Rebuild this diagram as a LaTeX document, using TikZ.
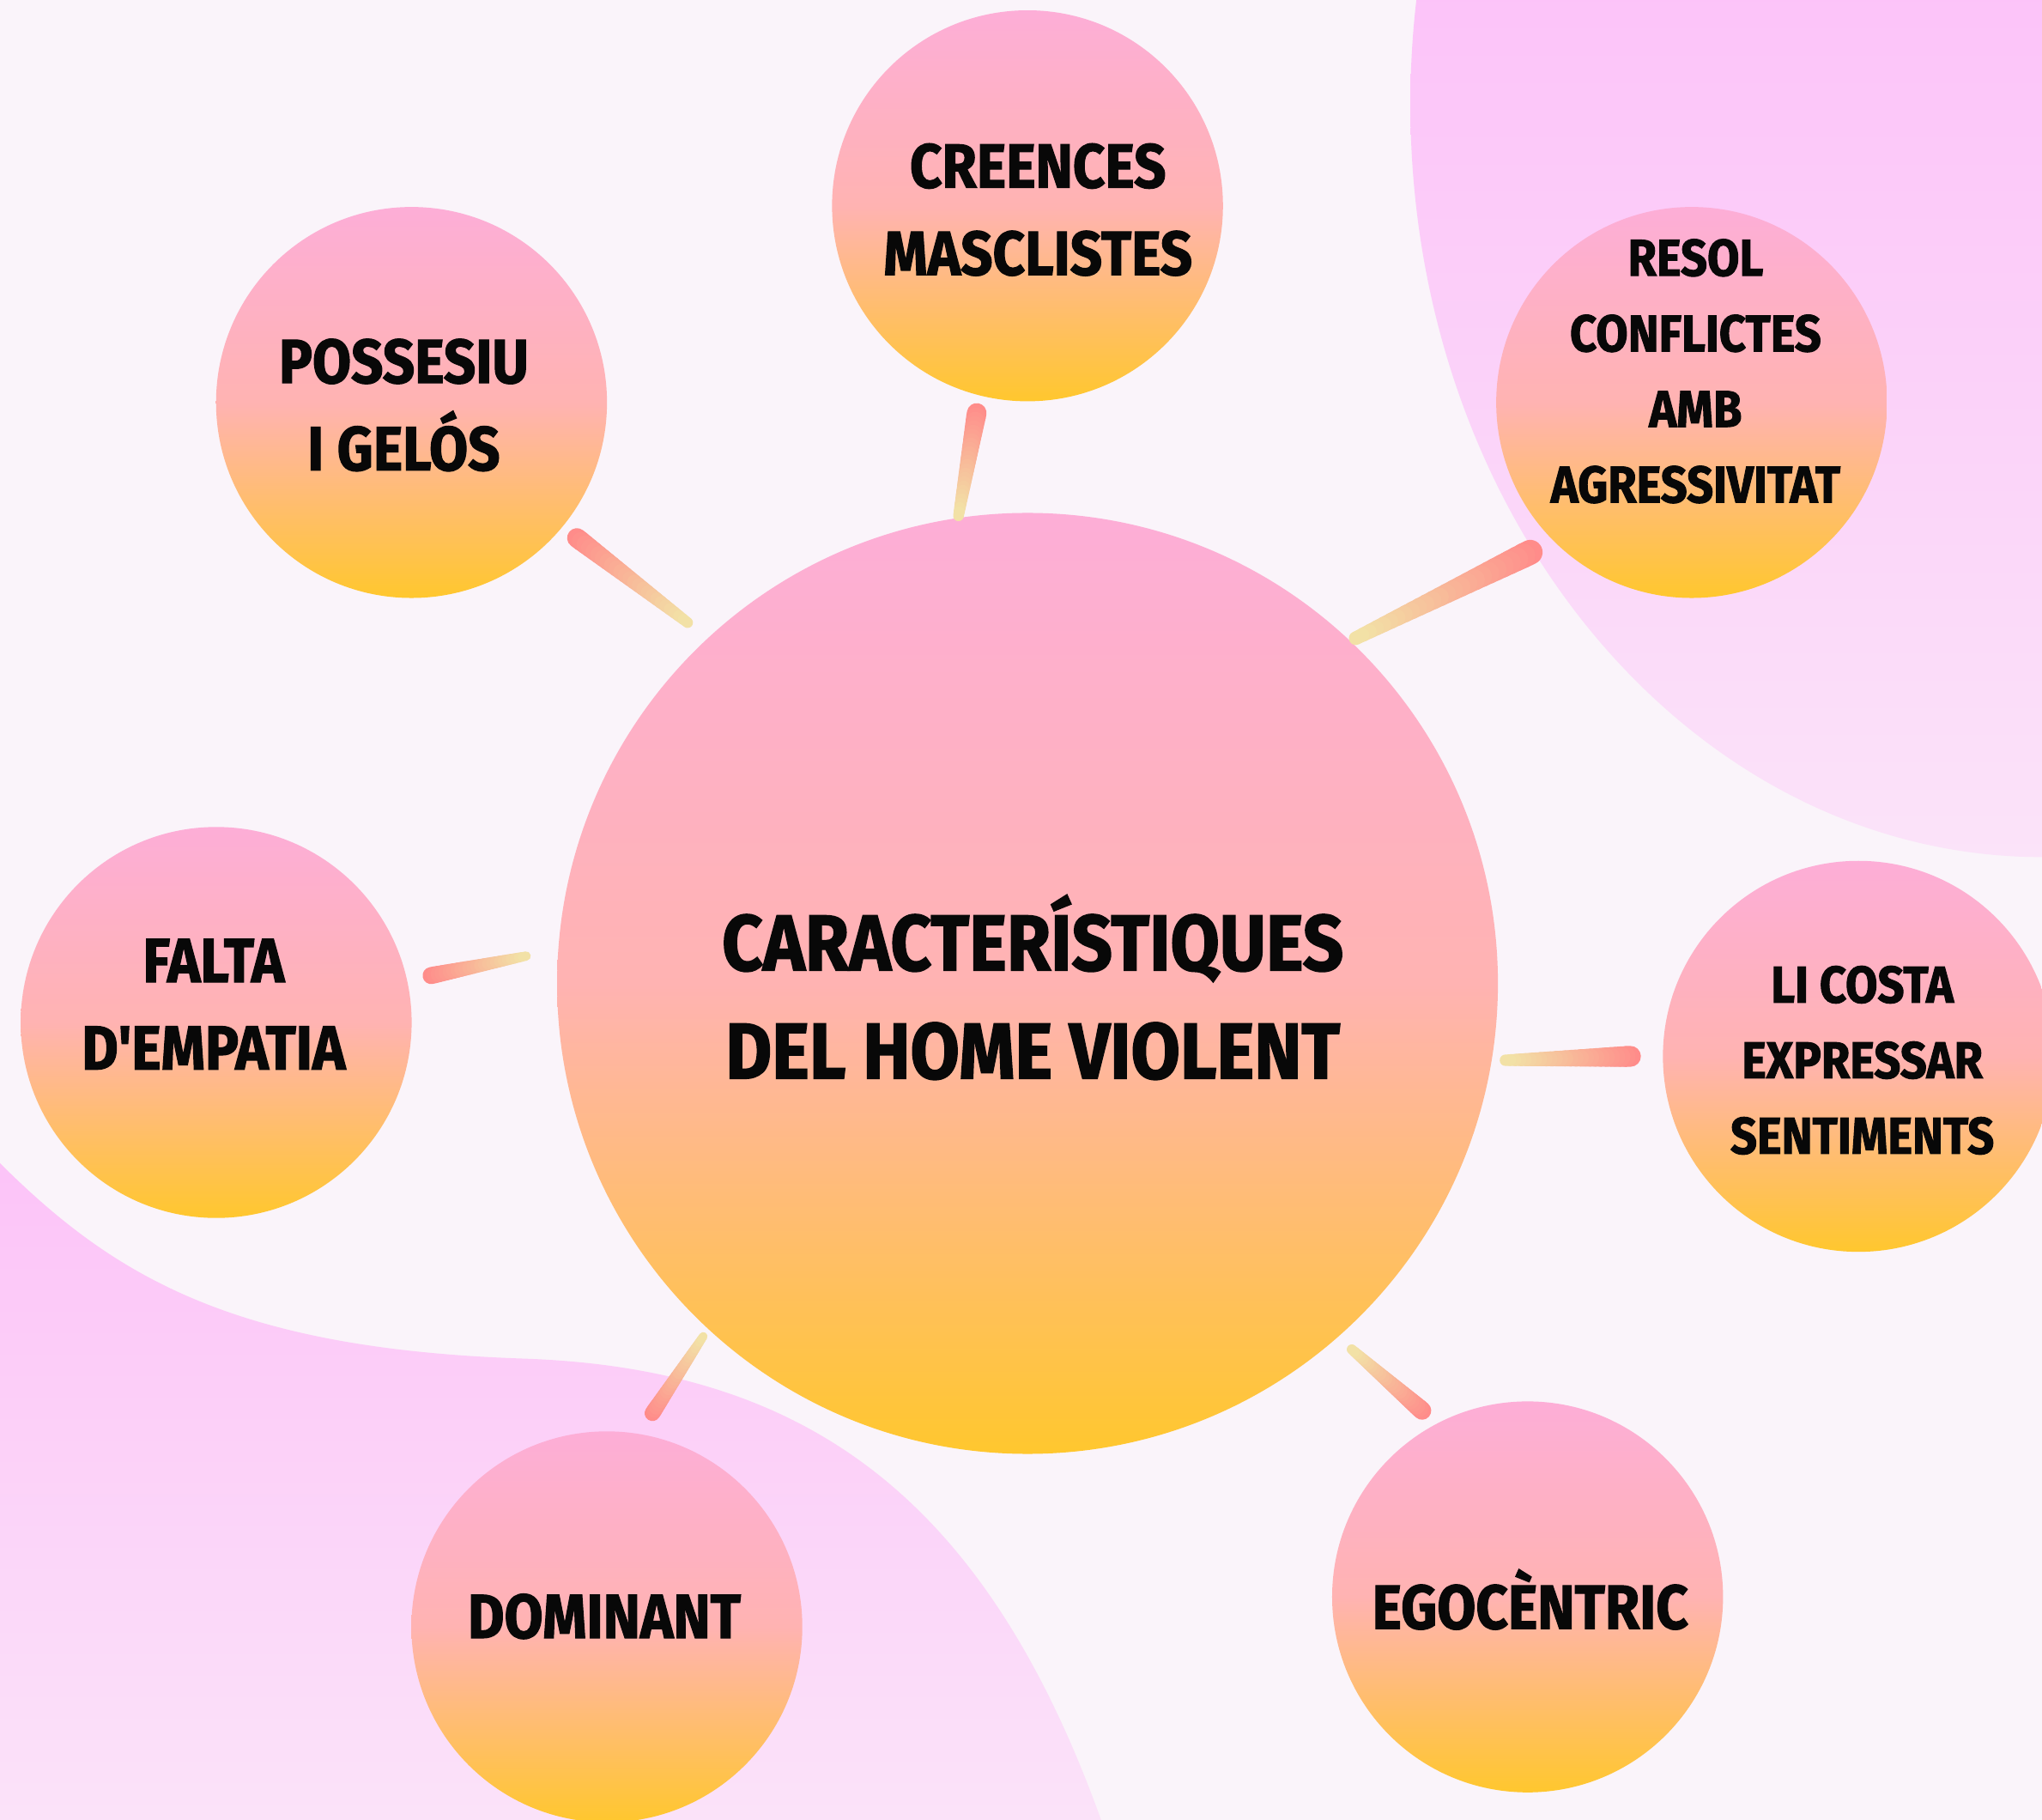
\documentclass[tikz,border=0pt]{standalone}
\usepackage{fontspec}
\setmainfont{Fira Sans}
\newfontfamily\brushfont{Fira Sans}[FakeStretch=0.9, FakeBold=1.6]
\usetikzlibrary{calc}
\definecolor{bgcol}{HTML}{FAF4FA}
\definecolor{blobA}{HTML}{FCC3F8}
\definecolor{blobB}{HTML}{FBE3F9}
\definecolor{bubA}{HTML}{FDAED7}
\definecolor{bubM}{HTML}{FFB3B2}
\definecolor{bubB}{HTML}{FFC72E}
\definecolor{brushA}{HTML}{FF8C8A}
\definecolor{brushB}{HTML}{F2E1A6}
\definecolor{ink}{HTML}{080808}
\newcommand\brushstroke[3]{%
  \foreach \i in {0,...,24}{%
    \pgfmathsetmacro\ta{\i/25}%
    \pgfmathsetmacro\tb{(\i+1)/25}%
    \pgfmathtruncatemacro\pc{100-100*\i/24}%
    \pgfmathsetmacro\lw{#3*(1-0.45*\i/24)*0.2845}%
    \draw[line width=\lw pt, color=brushA!\pc!brushB, line cap=round] ($(#1)!\ta!(#2)$) -- ($(#1)!\tb!(#2)$);
  }}
\begin{document}
\begin{tikzpicture}[x=0.01cm,y=-0.01cm,
  bubble/.style={circle, minimum size=3cm, inner sep=0pt, top color=bubA, bottom color=bubB, middle color=bubM},
  bigbubble/.style={bubble, minimum size=7.22cm},
  lbl/.style={font=\brushfont\bfseries\fontsize{13.6}{19.06}\selectfont, text=ink, align=center, inner sep=0pt},
  lblsmall/.style={lbl, font=\brushfont\bfseries\fontsize{11.3}{16.5}\selectfont},
  lblbig/.style={lbl, font=\brushfont\bfseries\fontsize{17.3}{23.6}\selectfont}]
\useasboundingbox (0,0) rectangle (1568,1397);
\fill[bgcol] (0,0) rectangle (1568,1397);
\begin{scope}
  \clip (0,0) rectangle (1568,1397);
  \shade[top color=blobA!80!magenta!60!blobA, bottom color=blobB] (1568,80) ellipse [x radius=485, y radius=578];
  \shade[top color=blobA, bottom color=blobB]
    (-10,883) .. controls (80,975) and (170,1035) .. (400,1043)
    .. controls (620,1050) and (760,1150) .. (850,1410)
    -- (-10,1410) -- cycle;
\end{scope}
% circles
\node[bigbubble] (center) at (789,755) {};
\node[bubble] (creences) at (789,158) {};
\node[bubble] (possesiu) at (316,309) {};
\node[bubble] (resol) at (1299,309) {};
\node[bubble] (falta) at (166,785) {};
\node[bubble] (licosta) at (1427,811) {};
\node[bubble] (dominant) at (466,1249) {};
\node[bubble] (egocentric) at (1173,1226) {};
% connector ends
\coordinate (cr-s) at (750,317);  \coordinate (cr-b) at (736,396);
\coordinate (po-s) at (443,413);  \coordinate (po-b) at (528,478);
\coordinate (re-s) at (1175,424); \coordinate (re-b) at (1041,490);
\coordinate (fa-s) at (331,749);  \coordinate (fa-b) at (404,734);
\coordinate (li-s) at (1252,811); \coordinate (li-b) at (1156,814);
\coordinate (do-s) at (501,1085); \coordinate (do-b) at (540,1026);
\coordinate (eg-s) at (1092,1083);\coordinate (eg-b) at (1038,1036);
\brushstroke{cr-s}{cr-b}{15}
\brushstroke{po-s}{po-b}{15}
\brushstroke{re-s}{re-b}{19}
\brushstroke{fa-s}{fa-b}{13}
\brushstroke{li-s}{li-b}{16}
\brushstroke{do-s}{do-b}{12}
\brushstroke{eg-s}{eg-b}{14}
% labels
\node[lblbig] (t-center) at (793,758) {CARACTERÍSTIQUES\\DEL HOME VIOLENT};
\node[lbl] (t-creences) at (797,161) {CREENCES\\MASCLISTES};
\node[lbl] (t-possesiu) at (310,311) {POSSESIU\\I GELÓS};
\node[lblsmall] (t-resol) at (1302,285) {RESOL\\CONFLICTES\\AMB\\AGRESSIVITAT};
\node[lbl] (t-falta) at (164,771) {FALTA\\D'EMPATIA};
\node[lblsmall] (t-licosta) at (1430,814) {LI COSTA\\EXPRESSAR\\SENTIMENTS};
\node[lbl] (t-dominant) at (464,1241) {DOMINANT};
\node[lbl] (t-egocentric) at (1175,1228) {EGOCÈNTRIC};
\end{tikzpicture}
\end{document}
